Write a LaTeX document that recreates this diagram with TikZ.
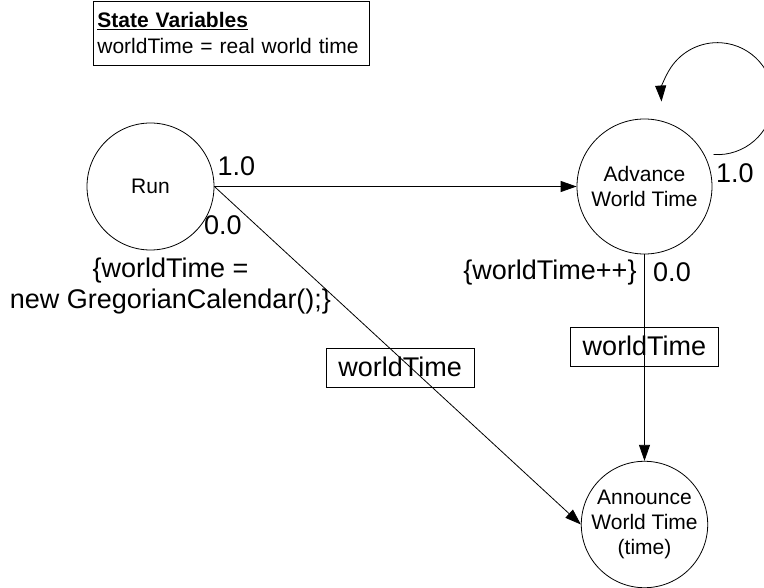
\documentclass[tikz,border=0pt]{standalone}
\usepackage{fontspec}
\setmainfont{Liberation Sans}
\usepackage{tikz}
\usetikzlibrary{arrows.meta}
\tikzset{
Etat/.style={
 circle, 
 draw=black, 
 line width=0.8pt, 
 align=center, 
 inner sep=0pt, 
 font=\fontsize{21}{25}\selectfont
 },
Fleche/.style={
 draw=black, 
 line width=0.8pt, 
 -{Triangle[length=16pt,width=11pt]}
 },
Boite/.style={
 draw=black, 
 line width=0.8pt, 
 minimum width=148pt, 
 minimum height=39pt, 
 text depth=3pt, 
 font=\fontsize{27}{31}\selectfont
 },
Texte/.style={
 align=center, 
 inner sep=0pt, 
 font=\fontsize{27}{31}\selectfont
 },
Variables/.style={
 draw=black, 
 line width=0.8pt, 
 anchor=north west, 
 align=left, 
 text width=268pt, 
 inner xsep=4pt, 
 minimum height=64pt, 
 font=\fontsize{21}{26}\selectfont
 }
}
\begin{document}
\begin{tikzpicture}[x=1pt,y=-1pt]
\useasboundingbox (0,0) rectangle (764,588);
\node[Variables] (vars) at (93,1) {\underline{\textbf{State Variables}}\\worldTime = real world time};
\node[Etat,minimum size=127pt] (run) at (150.5,186.5) {Run};
\node[Etat,minimum size=135pt] (adv) at (644.5,186.5) {Advance\\World Time};
\node[Etat,minimum size=123pt] (ann) at (644.5,524.5) {Announce\\World Time\\(time)};
\draw[Fleche] (run) -- (adv);
\draw[Fleche] (run.east) -- (ann.west) node[Boite,pos=0.507,yshift=-10pt] (wt1) {worldTime};
\draw[Fleche] (adv) -- (ann) node[Boite,pos=0.45] (wt2) {worldTime};
\coordinate (boucle) at ([shift={(69,-32)}]adv.center);
\draw[Fleche] (boucle) arc[start angle=94,end angle=-183,radius=56];
% probabilites et actions
\node[Texte] (runhaut) at ([shift={(22,-20)}]run.east) {1.0};
\node[Texte] (runbas) at ([shift={(8.5,38.5)}]run.east) {0.0};
\node[Texte] (runaction) at ([shift={(20,36)}]run.south) {\{worldTime =\\new GregorianCalendar();\}};
\node[Texte] (advhaut) at ([shift={(22.5,-13.5)}]adv.east) {1.0};
\node[Texte] (advaction) at ([shift={(-94.5,18.5)}]adv.south) {\{worldTime++\}};
\node[Texte] (advbas) at ([shift={(27.5,17.5)}]adv.south) {0.0};
\end{tikzpicture}
\end{document}
